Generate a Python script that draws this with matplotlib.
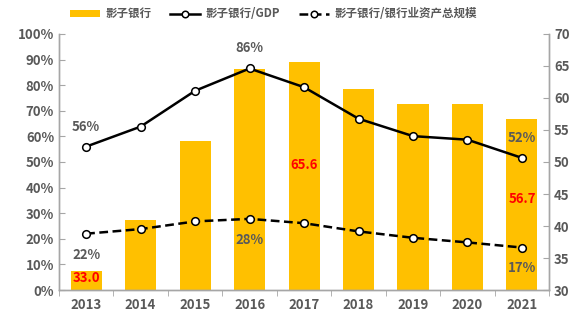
import numpy as np
import matplotlib.pyplot as plt
from matplotlib.ticker import FuncFormatter

plt.rcParams['font.family'] = ['Noto Sans CJK SC', 'DejaVu Sans']

# 数据
years = ['2013', '2014', '2015', '2016', '2017', '2018', '2019', '2020', '2021']
shadow_bank = [33.0, 40.9, 53.3, 64.5, 65.6, 61.4, 59.0, 59.1, 56.7]   # 万亿元, 右轴
to_gdp = [56, 63.8, 77.8, 86.5, 79.2, 66.9, 60.1, 58.7, 51.6]           # %, 左轴
to_bank_assets = [22, 23.8, 26.8, 27.8, 26.1, 22.9, 20.4, 18.6, 16.6]   # %, 左轴

gray = '#595959'
gold = '#FFC000'

fig = plt.figure(figsize=(5.83, 3.23), dpi=100)
ax = fig.add_axes([0.101, 0.102, 0.841, 0.793])
ax2 = ax.twinx()

x = np.arange(len(years))

# 柱子放在右轴（底为30）
ax2.bar(x, np.array(shadow_bank) - 30, bottom=30, width=0.57, color=gold, label='影子银行', zorder=1)
ax2.set_ylim(30, 70)
ax2.set_yticks(np.arange(30, 71, 5))

# 折线放在左轴，要画在柱子上面
ax.set_zorder(ax2.get_zorder() + 1)
ax.patch.set_visible(False)
ax.plot(x, to_gdp, color='black', lw=1.8, marker='o', ms=5.5, mfc='white', mec='black', mew=1.1,
        label='影子银行/GDP')
ax.plot(x, to_bank_assets, color='black', lw=1.8, ls=(0, (3.5, 1.8)), marker='o', ms=5.5, mfc='white',
        mec='black', mew=1.1, label='影子银行/银行业资产总规模')
ax.set_ylim(0, 100)
ax.set_yticks(np.arange(0, 101, 10))
ax.yaxis.set_major_formatter(FuncFormatter(lambda v, p: f'{v:.0f}%'))
ax.set_xlim(-0.5, len(years) - 0.5)
ax.set_xticks(x)
ax.set_xticklabels(years)
ax.set_xticks(np.arange(-0.5, len(years), 1), minor=True)

for a in (ax, ax2):
    a.spines['top'].set_visible(False)
    for s in ('left', 'right', 'bottom'):
        a.spines[s].set_color('#a6a6a6')
        a.spines[s].set_linewidth(1)
ax.tick_params(axis='y', direction='in', length=4, color='#a6a6a6', labelcolor=gray, labelsize=9.5)
ax2.tick_params(axis='y', direction='in', length=4, color='#a6a6a6', labelcolor=gray, labelsize=9.5)
ax.tick_params(axis='x', which='major', length=0, labelcolor=gray, labelsize=9.5, pad=6)
ax.tick_params(axis='x', which='minor', direction='out', length=4, color='#a6a6a6')
for lab in ax.get_yticklabels() + ax2.get_yticklabels() + ax.get_xticklabels():
    lab.set_fontweight('bold')

# 数据标签
lab_kw = dict(color=gray, fontsize=9.5, fontweight='bold', ha='center', va='center')
ax.text(0, 63.5, '56%', **lab_kw)
ax.text(3, 94.5, '86%', **lab_kw)
ax.text(0, 13.5, '22%', **lab_kw)
ax.text(3, 19.5, '28%', **lab_kw)
ax.text(8, 59.5, '52%', **lab_kw)
ax.text(8, 8.5, '17%', **lab_kw)

red_kw = dict(color='#FF0000', fontsize=9.5, fontweight='bold', ha='center', va='center')
ax2.text(0, 31.9, f'{shadow_bank[0]:.1f}', **red_kw)
ax2.text(4, 49.6, f'{shadow_bank[4]:.1f}', **red_kw)
ax2.text(8, 44.2, f'{shadow_bank[8]:.1f}', **red_kw)

h1, l1 = ax2.get_legend_handles_labels()
h2, l2 = ax.get_legend_handles_labels()
leg = fig.legend(h1 + h2, l1 + l2, loc='center', bbox_to_anchor=(0.469, 0.957), ncol=3, frameon=False,
                 fontsize=8.3, handlelength=2.6, handleheight=0.5, columnspacing=1.6, handletextpad=0.5,
                 markerscale=0.85)
for t in leg.get_texts():
    t.set_color(gray)
    t.set_fontweight('bold')

fig.savefig('out.png', dpi=100)
